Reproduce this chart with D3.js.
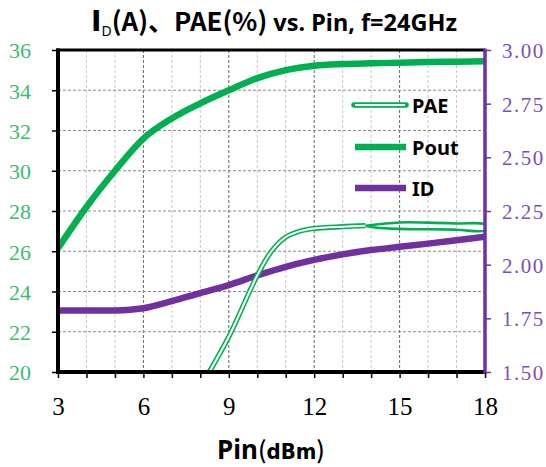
<!DOCTYPE html>
<html><head><meta charset="utf-8">
<script src="https://cdn.jsdelivr.net/npm/d3@7"></script>
<style>body{margin:0;background:#fff}svg{display:block}</style>
</head><body>
<svg id="c" width="546" height="467"></svg>
<script>
// ---- data ----
const pinTicks = [3, 6, 9, 12, 15, 18];
const leftTicks = [20, 22, 24, 26, 28, 30, 32, 34, 36];
const rightTicks = [1.5, 1.75, 2.0, 2.25, 2.5, 2.75, 3.0];
const pin = [3, 4, 5, 6, 7, 8, 9, 10, 11, 12, 13, 14, 15, 16, 17, 18];
const pout = [26.15, 28.2, 30.0, 31.6, 32.6, 33.35, 34.0, 34.6, 35.0, 35.22, 35.3, 35.34, 35.37, 35.4, 35.42, 35.44];
const idA = [1.786, 1.786, 1.787, 1.797, 1.83, 1.868, 1.905, 1.95, 1.99, 2.022, 2.048, 2.068, 2.083, 2.098, 2.114, 2.13];
const paePin = [7.5, 8, 9, 10, 10.5, 11, 11.5, 12, 13, 13.8];
const pae = [17.8, 19.2, 21.75, 24.8, 26.0, 26.7, 27.0, 27.13, 27.22, 27.27];
// PAE tail (forward sweep and return sweep above 13.8 dBm)
const paeTailPin = [13.8, 15, 16, 17, 18, 18, 17, 16, 15, 14.2, 13.8];
const paeTail = [27.27, 27.43, 27.42, 27.38, 27.32, 27.04, 27.07, 27.09, 27.11, 27.17, 27.27];
const legendNames = ["PAE", "Pout", "ID"];

// ---- layout ----
const svg = d3.select("#c");
const L = 58, R = 485, T = 50, B = 372;
const x = d3.scaleLinear().domain([3, 18]).range([L, R]);
const yL = d3.scaleLinear().domain([20, 36]).range([B, T]);
const yR = d3.scaleLinear().domain([1.5, 3]).range([B, T]);
const green = "#00b050", purple = "#7030a0";

svg.append("clipPath").attr("id", "clip").append("rect")
  .attr("x", L).attr("y", T).attr("width", R - L).attr("height", B - T);

// grid
const g = svg.append("g");
d3.range(4, 18).forEach(v => {
  const major = v % 3 === 0;
  g.append("line").attr("x1", x(v)).attr("x2", x(v)).attr("y1", T).attr("y2", B)
    .attr("stroke", major ? "#666" : "#c8c8c8").attr("stroke-width", 1)
    .attr("stroke-dasharray", "3,2");
});
leftTicks.slice(1, -1).forEach(v => {
  g.append("line").attr("x1", L).attr("x2", R).attr("y1", yL(v)).attr("y2", yL(v))
    .attr("stroke", "#8a8a8a").attr("stroke-width", 1).attr("stroke-dasharray", "3,2");
});

// lines
const plot = svg.append("g").attr("clip-path", "url(#clip)");
const lineID = d3.line().x((d, i) => x(pin[i])).y(d => yR(d)).curve(d3.curveMonotoneX);
plot.append("path").attr("d", lineID(idA)).attr("fill", "none")
  .attr("stroke", purple).attr("stroke-width", 6.5);

const linePAE = d3.line().x((d, i) => x(paePin[i])).y(d => yL(d)).curve(d3.curveCatmullRom);
plot.append("path").attr("d", linePAE(pae)).attr("fill", "none")
  .attr("stroke", green).attr("stroke-width", 5.2);
plot.append("path").attr("d", linePAE(pae)).attr("fill", "none")
  .attr("stroke", "#fff").attr("stroke-width", 2);
const lineTail = d3.line().x((d, i) => x(paeTailPin[i])).y(d => yL(d)).curve(d3.curveCatmullRom);
plot.append("path").attr("d", lineTail(paeTail)).attr("fill", "none")
  .attr("stroke", green).attr("stroke-width", 2.6).attr("stroke-linejoin", "round");

const linePout = d3.line().x((d, i) => x(pin[i])).y(d => yL(d)).curve(d3.curveMonotoneX);
plot.append("path").attr("d", linePout(pout)).attr("fill", "none")
  .attr("stroke", green).attr("stroke-width", 6.5);

// frame
svg.append("line").attr("x1", L - 2).attr("x2", R).attr("y1", T).attr("y2", T).attr("stroke", "#000").attr("stroke-width", 3);
svg.append("line").attr("x1", L).attr("x2", L).attr("y1", T - 1.5).attr("y2", B + 2).attr("stroke", "#000").attr("stroke-width", 4);
svg.append("line").attr("x1", L - 2).attr("x2", R).attr("y1", B).attr("y2", B).attr("stroke", "#000").attr("stroke-width", 4);
svg.append("line").attr("x1", R).attr("x2", R).attr("y1", T - 1.5).attr("y2", B + 2).attr("stroke", purple).attr("stroke-width", 3.5);

// axes
const ax = svg.append("g").attr("transform", `translate(0,${B})`)
  .call(d3.axisBottom(x).tickValues(d3.range(3, 19)).tickSize(6).tickFormat(d => pinTicks.includes(d) ? d : ""));
ax.select(".domain").remove();
ax.selectAll("line").attr("stroke", "#000").attr("stroke-width", 1.5);
ax.selectAll("text").attr("font-family", "Liberation Serif, serif").attr("font-size", 25)
  .attr("fill", "#000").attr("dy", 0).attr("y", 43);

const al = svg.append("g").attr("transform", `translate(${L},0)`)
  .call(d3.axisLeft(yL).tickValues(leftTicks).tickSize(6).tickPadding(0).tickFormat(d3.format("d")));
al.select(".domain").remove();
al.selectAll("line").attr("stroke", "#000").attr("stroke-width", 1.5);
al.selectAll("text").attr("font-family", "Liberation Serif, serif").attr("font-size", 22)
  .attr("fill", "#3dbb6e").attr("x", -27).attr("dy", "0.36em");

const ar = svg.append("g").attr("transform", `translate(${R},0)`)
  .call(d3.axisRight(yR).tickValues(rightTicks).tickSize(6).tickPadding(0).tickFormat(d3.format(".2f")));
ar.select(".domain").remove();
ar.selectAll("line").attr("stroke", purple).attr("stroke-width", 1.5);
ar.selectAll("text").attr("font-family", "Liberation Serif, serif").attr("font-size", 21)
  .attr("fill", "#7d4fb5").attr("x", 17).attr("dy", "0.36em").attr("letter-spacing", 1.5);

// title
const t = svg.append("text").attr("x", 274).attr("y", 31).attr("text-anchor", "middle")
  .attr("font-family", "'Noto Sans', sans-serif").attr("font-weight", "bold").attr("fill", "#000");
t.append("tspan").attr("font-size", 28).attr("font-family", "'DejaVu Sans', sans-serif").text("I");
t.append("tspan").attr("font-size", 14).attr("dy", 5).attr("font-weight", "normal").text("D");
t.append("tspan").attr("font-size", 26).attr("dy", -5).attr("font-family", "'Noto Sans CJK SC', sans-serif").attr("font-weight", "bold").text("(A)、PAE(%)");
t.append("tspan").attr("font-size", 23.5).text(" vs. Pin, f=24GHz");

// x axis title
const xt = svg.append("text").attr("x", 271).attr("y", 459).attr("text-anchor", "middle")
  .attr("font-family", "'Noto Sans', sans-serif").attr("font-weight", "bold").attr("fill", "#000");
xt.append("tspan").attr("font-size", 26).text("Pin");
xt.append("tspan").attr("font-size", 24).attr("font-family", "'Noto Sans CJK SC', sans-serif").attr("font-weight", 500).text("(");
xt.append("tspan").attr("font-size", 22).attr("font-family", "'DejaVu Sans', sans-serif").attr("font-stretch", "condensed").attr("font-weight", "bold").text("dBm");
xt.append("tspan").attr("font-size", 24).attr("font-family", "'Noto Sans CJK SC', sans-serif").attr("font-weight", 500).text(")");

// legend
const legY = [105, 147, 188];
const lg = svg.append("g");
lg.append("line").attr("x1", 354).attr("x2", 406).attr("y1", legY[0]).attr("y2", legY[0])
  .attr("stroke", green).attr("stroke-width", 5.5).attr("stroke-linecap", "round");
lg.append("line").attr("x1", 355).attr("x2", 405).attr("y1", legY[0]).attr("y2", legY[0])
  .attr("stroke", "#fff").attr("stroke-width", 2);
lg.append("line").attr("x1", 355).attr("x2", 406).attr("y1", legY[1]).attr("y2", legY[1])
  .attr("stroke", green).attr("stroke-width", 6.5);
lg.append("line").attr("x1", 355).attr("x2", 406).attr("y1", legY[2]).attr("y2", legY[2])
  .attr("stroke", purple).attr("stroke-width", 6.5);
legendNames.forEach((n, i) => {
  lg.append("text").attr("x", 412).attr("y", legY[i] + 7.5).attr("font-family", "'Noto Sans', sans-serif")
    .attr("font-weight", "bold").attr("font-size", 20).attr("fill", "#000").text(n);
});
</script>
</body></html>
